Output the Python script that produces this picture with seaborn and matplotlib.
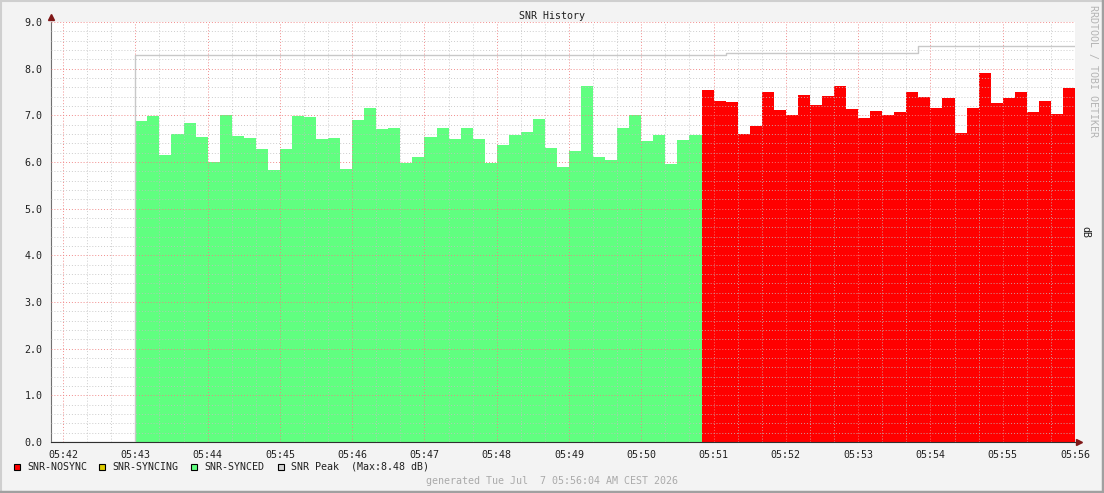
import matplotlib
matplotlib.use("Agg")
import matplotlib.pyplot as plt
import matplotlib.patches as mpatches
import numpy as np
import pandas as pd
import seaborn as sns

# x values are seconds after 05:42:00, one sample every 10 s
tick_labels = ["05:42", "05:43", "05:44", "05:45", "05:46", "05:47", "05:48",
               "05:49", "05:50", "05:51", "05:52", "05:53", "05:54", "05:55", "05:56"]
step = 10
synced_start = 60

snr_synced = [6.88, 6.99, 6.15, 6.60, 6.84, 6.54, 6.00, 7.01, 6.56, 6.51,
              6.28, 5.83, 6.28, 6.99, 6.96, 6.49, 6.51, 5.85, 6.90, 7.16,
              6.71, 6.73, 5.98, 6.10, 6.54, 6.73, 6.49, 6.73, 6.49, 5.98,
              6.36, 6.58, 6.64, 6.92, 6.30, 5.89, 6.23, 7.63, 6.10, 6.04,
              6.73, 7.01, 6.45, 6.58, 5.96, 6.47, 6.58]
snr_nosync = [7.54, 7.31, 7.29, 6.60, 6.77, 7.50, 7.11, 7.01, 7.44, 7.22,
              7.41, 7.63, 7.14, 6.94, 7.09, 7.01, 7.07, 7.50, 7.39, 7.16,
              7.37, 6.62, 7.16, 7.91, 7.26, 7.37, 7.50, 7.07, 7.31, 7.03,
              7.59]
peak_times = [-10, 60, 550, 710, 840]
peak_values = [0.0, 8.29, 8.33, 8.48, 8.48]
peak_max = 8.48

legend_labels = ["SNR-NOSYNC", "SNR-SYNCING", "SNR-SYNCED", f"SNR Peak  (Max:{peak_max:.2f} dB)"]
legend_colors = ["#ff0000", "#ddcc00", "#60ff80", "#d4d4d4"]
generated = "generated Tue Jul  7 05:56:04 AM CEST 2026"

sns.set_style("white")
plt.rcParams["font.family"] = ["DejaVu Sans Mono"]
FS = 7.2

W, H = 1104, 493
fig = plt.figure(figsize=(W / 100, H / 100), dpi=100, facecolor="#f3f3f3")
ax = fig.add_axes([51 / W, (H - 442) / H, 1024 / W, 420 / H])
ax.set_facecolor("white")


def draw_segment(values, start, color):
    n = len(values)
    df = pd.DataFrame({"t": start + step * np.arange(n) + step / 2, "snr": values})
    sns.histplot(data=df, x="t", weights="snr", bins=n, binrange=(start, start + step * n),
                 element="step", fill=True, color=color, alpha=1, linewidth=0, ax=ax,
                 zorder=1)


nosync_start = synced_start + step * len(snr_synced)
draw_segment(snr_synced, synced_start, legend_colors[2])
draw_segment(snr_nosync, nosync_start, legend_colors[0])

peak = pd.DataFrame({"t": peak_times, "v": peak_values})
sns.lineplot(data=peak, x="t", y="v", drawstyle="steps-post", color="#c8c8c8",
             linewidth=1.0, estimator=None, sort=False, ax=ax, zorder=3)

ax.set_xlim(-10, 840)
ax.set_ylim(0, 9)
ax.set_xticks(np.arange(0, 841, 60), tick_labels)
ax.set_xticks(np.arange(0, 841, 20), minor=True)
ax.set_yticks(np.arange(0, 9.01, 1.0), [f"{v:.1f}" for v in np.arange(0, 9.01, 1.0)])
ax.set_yticks(np.arange(0, 9.01, 0.2), minor=True)
ax.set_axisbelow(False)
ax.grid(which="minor", color="#c0c0c0", linestyle=(0, (1, 2)), linewidth=0.7, alpha=0.8, zorder=2)
ax.grid(which="major", color="#f08080", linestyle=(0, (1, 2)), linewidth=0.7, alpha=0.9, zorder=2)
ax.set_xlabel("")
ax.set_ylabel("")
ax.tick_params(which="both", length=2, width=0.6, color="#606060", pad=4, labelsize=FS,
               labelcolor="#202020")
ax.tick_params(which="minor", length=1.5)
for s in ["top", "right"]:
    ax.spines[s].set_visible(False)
ax.spines["left"].set_color("#707070")
ax.spines["bottom"].set_color("#303030")
ax.spines["left"].set_linewidth(0.8)
ax.spines["bottom"].set_linewidth(0.8)
ax.plot([0], [1.012], marker="^", markersize=4, color="#801818", transform=ax.transAxes,
        clip_on=False)
ax.plot([1.004], [0], marker=">", markersize=4, color="#801818", transform=ax.transAxes,
        clip_on=False)

fig.text(552 / W, 1 - 16 / H, "SNR History", ha="center", va="center", fontsize=FS,
         color="#202020")
fig.text(1085 / W, 1 - 232 / H, "dB", ha="center", va="center", rotation=270,
         fontsize=FS, color="#202020")
fig.text(1093 / W, 1 - 5 / H, "RRDTOOL / TOBI OETIKER", ha="center", va="top",
         rotation=270, fontsize=FS, color="#b4b4b4")
fig.text(552 / W, 1 - 481 / H, generated, ha="center", va="center", fontsize=FS,
         color="#aaaaaa")

# legend row
legend_x = [14, 99, 191, 278]
for x, lab, col in zip(legend_x, legend_labels, legend_colors):
    fig.patches.append(mpatches.Rectangle((x / W, 1 - 470 / H), 6 / W, 6 / H,
                                          transform=fig.transFigure, facecolor=col,
                                          edgecolor="black", linewidth=0.8))
    fig.text((x + 13) / W, 1 - 466.5 / H, lab, ha="left", va="center", fontsize=FS,
             color="#202020")

# frame around the canvas
fig.add_artist(plt.Line2D([0, 1], [1 - 1 / H, 1 - 1 / H], transform=fig.transFigure,
                          color="#cfcfcf", linewidth=1.5))
fig.add_artist(plt.Line2D([1 / W, 1 / W], [0, 1], transform=fig.transFigure,
                          color="#cfcfcf", linewidth=1.5))
fig.add_artist(plt.Line2D([0, 1], [1.5 / H, 1.5 / H], transform=fig.transFigure,
                          color="#a0a0a0", linewidth=2.5))
fig.add_artist(plt.Line2D([1 - 1.5 / W, 1 - 1.5 / W], [0, 1], transform=fig.transFigure,
                          color="#a0a0a0", linewidth=2.5))

fig.savefig("out.png", dpi=100, facecolor=fig.get_facecolor())
